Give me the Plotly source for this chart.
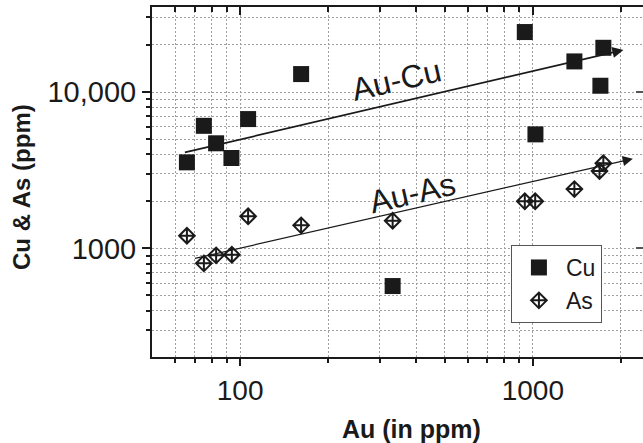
import numpy as np
import plotly.graph_objects as go

# Au vs Cu (ppm)
au_cu = [65.8, 75.2, 82.8, 93.4, 106.5, 161.6, 332, 939, 1021, 1387, 1702, 1742]
cu_ppm = [3550, 6080, 4700, 3785, 6715, 13030, 574, 24200, 5360, 15700, 10970, 19190]

# Au vs As (ppm)
au_as = [65.8, 75.2, 82.8, 93.7, 106.5, 161.6, 332, 939, 1019, 1387, 1690, 1742]
as_ppm = [1204, 802, 902, 910, 1603, 1403, 1502, 2000, 2000, 2393, 3126, 3500]

# Trend arrows (start, end) in ppm
cu_trend_au = [64, 2040]
cu_trend = [4090, 18580]
as_trend_au = [69.3, 2197]
as_trend = [858, 3743]

x_ticks = [100, 1000]
x_ticktext = ["100", "1000"]
y_ticks = [1000, 10000]
y_ticktext = ["1000", "10,000"]
x_minor = [60, 70, 80, 90, 200, 300, 400, 500, 600, 700, 800, 900, 2000]
y_minor = [300, 400, 500, 600, 700, 800, 900, 2000, 3000, 4000, 5000,
           6000, 7000, 8000, 9000, 20000, 30000]

x_range = [np.log10(50), 3.3765]
y_range = [2.305, 4.544]

ink = "#1a1a1a"
grid = "#a0a0a0"
grid_dash = "2px,2px"
font_family = "Liberation Sans, Arial, sans-serif"

fig = go.Figure()
fig.add_trace(go.Scatter(
    x=au_cu, y=cu_ppm, mode="markers", name="Cu",
    marker=dict(symbol="square", size=16, color=ink),
))
fig.add_trace(go.Scatter(
    x=au_as, y=as_ppm, mode="markers", name="As",
    marker=dict(symbol="diamond-cross-open", size=12, color=ink,
                line=dict(width=2, color=ink)),
))
# empty trace so the top/right tick axes get drawn
fig.add_trace(go.Scatter(x=[], y=[], xaxis="x2", yaxis="y2",
                         showlegend=False, hoverinfo="skip"))

axis_common = dict(
    type="log", showline=True, linecolor=ink, linewidth=2,
    zeroline=False, tickcolor=ink, tickwidth=2,
)

fig.update_layout(
    width=643, height=443,
    margin=dict(l=152, r=0, t=7, b=86),
    paper_bgcolor="white", plot_bgcolor="white",
    font=dict(family=font_family, color=ink),
    xaxis=dict(
        **axis_common, range=x_range, ticks="outside", ticklen=7,
        tickvals=x_ticks, ticktext=x_ticktext,
        tickfont=dict(size=28, color=ink),
        showgrid=True, gridcolor=grid, griddash=grid_dash, gridwidth=1,
        minor=dict(tickvals=x_minor, ticks="outside", ticklen=4,
                   tickwidth=1.5, tickcolor=ink, showgrid=True,
                   gridcolor=grid, griddash=grid_dash, gridwidth=1),
    ),
    yaxis=dict(
        **axis_common, range=y_range, ticks="outside", ticklen=8,
        tickvals=y_ticks, ticktext=y_ticktext,
        tickfont=dict(size=29, color=ink),
        showgrid=True, gridcolor=grid, griddash=grid_dash, gridwidth=1,
        minor=dict(tickvals=y_minor, ticks="outside", ticklen=4,
                   tickwidth=1.5, tickcolor=ink, showgrid=True,
                   gridcolor=grid, griddash=grid_dash, gridwidth=1),
    ),
    xaxis2=dict(
        **axis_common, overlaying="x", side="top", anchor="y2",
        range=x_range, ticks="inside", ticklen=8, tickvals=x_ticks,
        showticklabels=False, showgrid=False,
        minor=dict(tickvals=x_minor, ticks="inside", ticklen=5,
                   tickwidth=1.5, tickcolor=ink, showgrid=False),
    ),
    yaxis2=dict(
        type="log", overlaying="y", side="right", anchor="x2",
        range=y_range, showline=False, zeroline=False,
        ticks="inside", ticklen=7, tickwidth=1.5, tickcolor="#555",
        tickvals=y_ticks, showticklabels=False, showgrid=False,
    ),
    legend=dict(
        x=0.731, y=0.32, xanchor="left", yanchor="top",
        font=dict(size=23, color=ink, family=font_family),
        bgcolor="white", bordercolor="#555", borderwidth=1,
        itemwidth=44, tracegroupgap=0,
    ),
    showlegend=True,
)

# Trend arrows
for tx, ty, w, s in [(cu_trend_au, cu_trend, 1.7, 1.3),
                     (as_trend_au, as_trend, 1.2, 1.7)]:
    fig.add_annotation(
        x=np.log10(tx[1]), y=np.log10(ty[1]),
        ax=np.log10(tx[0]), ay=np.log10(ty[0]),
        xref="x", yref="y", axref="x", ayref="y",
        text="", showarrow=True, arrowhead=2, arrowwidth=w,
        arrowsize=s, arrowcolor=ink, standoff=0, startstandoff=0,
    )

# Trend labels
fig.add_annotation(x=2.535, y=4.077, xref="x", yref="y", text="Au-Cu",
                   showarrow=False, textangle=-13,
                   font=dict(size=32, color=ink, family=font_family))
fig.add_annotation(x=2.590, y=3.352, xref="x", yref="y", text="Au-As",
                   showarrow=False, textangle=-13,
                   font=dict(size=32, color=ink, family=font_family))

# Axis titles
fig.add_annotation(x=(411.7 - 152) / 491, y=(357 - 429) / 350,
                   xref="paper", yref="paper", text="Au (in ppm)",
                   showarrow=False, xanchor="center", yanchor="middle",
                   font=dict(size=25, color=ink, family=font_family,
                             weight="bold"))
fig.add_annotation(x=(22 - 152) / 491, y=(357 - 187) / 350,
                   xref="paper", yref="paper", text="Cu & As (ppm)",
                   showarrow=False, textangle=-90,
                   xanchor="center", yanchor="middle",
                   font=dict(size=24, color=ink, family=font_family,
                             weight="bold"))

fig.write_html("out.html")
